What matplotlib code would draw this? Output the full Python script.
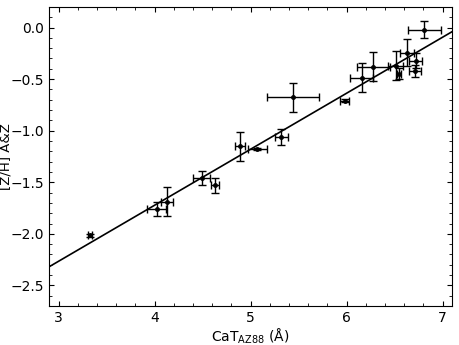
import numpy as np
import matplotlib
matplotlib.use('Agg')
import matplotlib.pyplot as plt
from matplotlib.ticker import MultipleLocator

# CaT index vs [Z/H]
cat = [3.33, 4.02, 4.13, 4.49, 4.63, 4.89, 5.07, 5.32, 5.44, 5.98,
       6.16, 6.28, 6.51, 6.55, 6.63, 6.72, 6.71, 6.81]
cat_err = [0.02, 0.10, 0.066, 0.09, 0.045, 0.05, 0.10, 0.07, 0.27, 0.05,
           0.12, 0.17, 0.08, 0.02, 0.07, 0.07, 0.06, 0.175]
zh = [-2.016, -1.76, -1.69, -1.46, -1.53, -1.15, -1.175, -1.06, -0.677, -0.709,
      -0.488, -0.38, -0.37, -0.447, -0.246, -0.32, -0.424, -0.02]
zh_err = [0.015, 0.07, 0.14, 0.065, 0.07, 0.14, 0.01, 0.08, 0.14, 0.015,
          0.14, 0.14, 0.14, 0.055, 0.13, 0.07, 0.06, 0.08]

# linear fit line
slope = 0.543
intercept = -3.895

fig = plt.figure(figsize=(4.6, 3.45), dpi=100)
ax = fig.add_axes([0.1065, 0.113, 0.8765, 0.867])

ax.errorbar(cat, zh, xerr=cat_err, yerr=zh_err, fmt='o', color='black',
            ms=2.5, elinewidth=1, capsize=3, capthick=1, ecolor='black')

xl = np.array([2.9, 7.1])
ax.plot(xl, slope * xl + intercept, color='black', lw=1.2)

ax.set_xlim(2.9, 7.1)
ax.set_ylim(-2.7, 0.2)
ax.xaxis.set_major_locator(MultipleLocator(1))
ax.xaxis.set_minor_locator(MultipleLocator(0.2))
ax.yaxis.set_major_locator(MultipleLocator(0.5))
ax.yaxis.set_minor_locator(MultipleLocator(0.1))
ax.tick_params(which='both', direction='in', top=True, right=True)

ax.set_xlabel(r'CaT$_{\rm AZ88}$ (Å)', labelpad=1)
ax.set_ylabel('[Z/H] A&Z', fontsize=9.5)
ax.yaxis.set_label_coords(-0.091, 0.5)

fig.savefig('out.png', dpi=100)
